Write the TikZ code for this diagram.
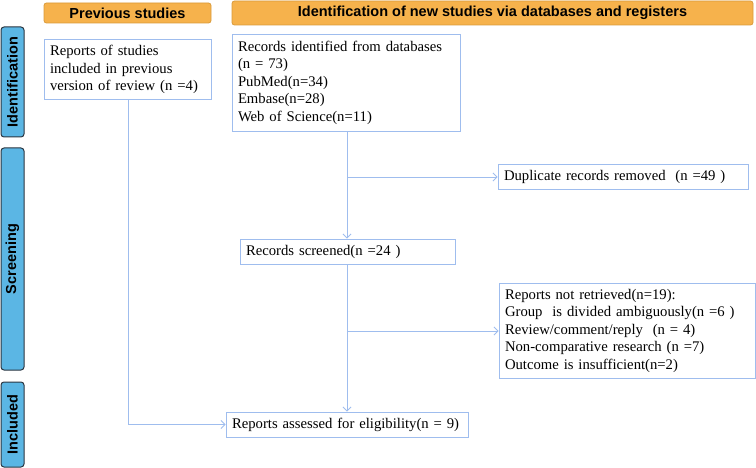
\documentclass[tikz,border=0pt]{standalone}
\usepackage{fontspec}
\setmainfont{Liberation Serif}
\newfontfamily\headfont{Liberation Sans}
\usetikzlibrary{arrows.meta}
\definecolor{linecol}{HTML}{9FBDEE}
\definecolor{headfill}{HTML}{F6B24C}
\definecolor{headdraw}{HTML}{D99A3A}
\definecolor{sidefill}{HTML}{5BB6E4}
\definecolor{sidedraw}{HTML}{2A3540}
\tikzset{
  box/.style={draw=linecol, line width=0.9pt, fill=white, inner xsep=6pt, inner ysep=0pt,
    font=\fontsize{14.7}{17.5}\selectfont, align=left, anchor=center},
  header/.style={draw=headdraw, fill=headfill, rounded corners=2.5pt, line width=0.8pt,
    font=\headfont\bfseries\fontsize{14.5}{16}\selectfont, anchor=center, inner sep=0pt},
  side/.style={draw=sidedraw, fill=sidefill, rounded corners=3pt, line width=1pt,
    font=\headfont\bfseries\fontsize{14.5}{16}\selectfont, anchor=center, inner sep=0pt, rotate=90},
  conn/.style={draw=linecol, line width=0.9pt},
  arr/.style={conn, -{Straight Barb[length=4pt,width=8pt]}}
}
\begin{document}
\begin{tikzpicture}[x=1pt,y=-1pt]
\useasboundingbox (0,0) rectangle (756,468);
% headers
\node[header, minimum width=167pt, minimum height=20pt] (hprev) at (127.5,13) {Previous studies};
\node[header, minimum width=521pt, minimum height=24pt] (hnew) at (492.5,13) {Identification of new studies via databases and registers};
% side bars
\node[side, minimum width=110pt, minimum height=23pt] (sid) at (12.5,82) {Identification};
\node[side, minimum width=222pt, minimum height=23pt] (sscr) at (12.5,259) {Screening};
\node[side, minimum width=85pt, minimum height=23pt] (sinc) at (12.5,424.5) {Included};
% boxes
\node[box, minimum width=167pt, minimum height=60pt, text width=155pt] (prev) at (127.5,69.5) {Reports of studies\\included in previous\\version of review (n =4)};
\node[box, minimum width=228pt, minimum height=97pt, text width=216pt] (recid) at (346,82.5) {Records identified from databases\\(n = 73)\\PubMed(n=34)\\Embase(n=28)\\Web of Science(n=11)};
\node[box, minimum width=250pt, minimum height=25pt, text width=238pt] (dup) at (623,176.5) {Duplicate records removed\ \ (n =49 )};
\node[box, minimum width=215pt, minimum height=25pt, text width=203pt] (scr) at (347.5,251.5) {Records screened(n =24 )};
\node[box, minimum width=256pt, minimum height=95pt, text width=244pt] (notr) at (627,330.5) {Reports not retrieved(n=19):\\Group\ \ is divided ambiguously(n =6 )\\Review/comment/reply\ \ (n = 4)\\Non-comparative research (n =7)\\Outcome is insufficient(n=2)};
\node[box, minimum width=242pt, minimum height=25pt, text width=230pt] (ass) at (347,424.5) {\mbox{Reports assessed for eligibility(n = 9)}};
% connectors
\coordinate (b1) at (347,177);
\coordinate (b2) at (347,331);
\coordinate (c1) at (128,424.5);
\draw[arr] (b1 |- recid.south) -- (b1 |- scr.north);
\draw[arr] (b1) -- (b1 -| dup.west);
\draw[arr] (b2 |- scr.south) -- (b2 |- ass.north);
\draw[arr] (b2) -- (b2 -| notr.west);
\draw[conn] (c1 |- prev.south) -- (c1);
\draw[arr] (c1) -- (ass.west);
\end{tikzpicture}
\end{document}
